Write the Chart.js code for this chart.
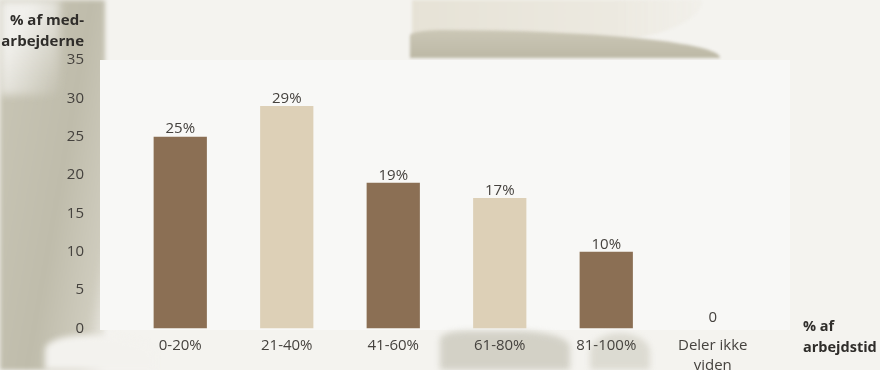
<!DOCTYPE html>
<html lang="da">
<head>
<meta charset="utf-8">
<title>Andel af arbejdstid</title>
<script src="https://cdn.jsdelivr.net/npm/chart.js@4.4.1/dist/chart.umd.min.js"></script>
<style>
  html, body { margin: 0; padding: 0; }
  body {
    width: 880px; height: 370px; overflow: hidden; position: relative;
    background: #f4f3ef;
    font-family: "Open Sans", Lato, sans-serif;
  }
  /* baggrundens penselstrøg */
  .bg { position: absolute; }
  #venstre {
    left: 0; top: 0; width: 105px; height: 370px;
    background: linear-gradient(100deg, #c9c6b6 0%, #bfbcab 55%, #cfccbe 85%, rgba(244,243,239,0) 100%);
    filter: blur(2px);
  }
  #venstre-lys {
    left: 0; top: 0; width: 60px; height: 95px;
    background: linear-gradient(120deg, #f1f0ec 30%, rgba(241,240,236,0) 100%);
    filter: blur(4px);
  }
  #venstre-bund {
    left: 45px; top: 335px; width: 110px; height: 35px;
    background: #f3f2ee; border-radius: 40% 60% 0 0; filter: blur(3px);
  }
  #top-lys {
    left: 412px; top: 0; width: 290px; height: 42px;
    background: linear-gradient(90deg, #e6e2d6, #ece9e0 70%, rgba(236,233,224,0.3));
    border-radius: 0 0 40% 0 / 0 0 100% 0; filter: blur(1.5px);
  }
  #top-moerk {
    left: 410px; top: 30px; width: 310px; height: 28px;
    background: linear-gradient(180deg, #cbc7b6, #bcb8a5);
    border-radius: 10% 90% 0 0 / 20% 100% 0 0; filter: blur(1.5px);
  }
  #panel {
    left: 100px; top: 60px; width: 690px; height: 270px;
    background: #f8f8f6;
  }
  #bund1 {
    left: 440px; top: 331px; width: 130px; height: 39px;
    background: #cbc9bd; border-radius: 20% 40% 0 0; filter: blur(3px); opacity: .8;
  }
  #bund2 {
    left: 590px; top: 333px; width: 60px; height: 37px;
    background: #d3d1c6; border-radius: 50% 50% 0 0; filter: blur(3px); opacity: .7;
  }
  .titel {
    position: absolute; font-weight: bold; font-size: 15px; line-height: 21px;
    color: #2f2d2a;
  }
  #y-titel { right: 796px; top: 9px; text-align: right; }
  #x-titel { left: 803px; top: 315px; font-size: 14.5px; }
  #wrap { position: absolute; left: 0; top: 0; width: 880px; height: 370px; }
</style>
</head>
<body>
<div class="bg" id="venstre"></div>
<div class="bg" id="venstre-lys"></div>
<div class="bg" id="venstre-bund"></div>
<div class="bg" id="top-lys"></div>
<div class="bg" id="top-moerk"></div>
<div class="bg" id="panel"></div>
<div class="bg" id="bund1"></div>
<div class="bg" id="bund2"></div>

<div id="wrap"><canvas id="diagram" width="880" height="370"></canvas></div>

<div class="titel" id="y-titel">% af med-<br>arbejderne</div>
<div class="titel" id="x-titel">% af<br>arbejdstid</div>

<script>
// Kategorier og værdier (% af medarbejderne)
const kategorier = ['0-20%', '21-40%', '41-60%', '61-80%', '81-100%', ['Deler ikke', 'viden']];
const andele = [25, 29, 19, 17, 10, 0];
const etiketter = ['25%', '29%', '19%', '17%', '10%', '0'];
const yTicks = [0, 5, 10, 15, 20, 25, 30, 35];

const MOERK = '#8b6f54';
const LYS = '#ddd0b7';
const TEKST = '#45423e';
const FONT = '"Open Sans", Lato, sans-serif';

// skriver værdien over hver søjle
const vaerdiPlugin = {
    id: 'vaerdier',
    afterDatasetsDraw(chart) {
        const ctx = chart.ctx;
        const meta = chart.getDatasetMeta(0);
        ctx.save();
        ctx.font = '15px ' + FONT;
        ctx.fillStyle = TEKST;
        ctx.textAlign = 'center';
        ctx.textBaseline = 'bottom';
        meta.data.forEach((bar, i) => {
            ctx.fillText(etiketter[i], bar.x, bar.y - (andele[i] === 0 ? 3 : 0));
        });
        ctx.restore();
    }
};

new Chart(document.getElementById('diagram'), {
    type: 'bar',
    data: {
        labels: kategorier,
        datasets: [{
            data: andele,
            backgroundColor: andele.map((v, i) => i % 2 === 0 ? MOERK : LYS),
            borderWidth: 0,
            barPercentage: 0.5,
            categoryPercentage: 1
        }]
    },
    options: {
        responsive: false,
        animation: false,
        layout: { padding: { top: 60, right: 114, left: 0, bottom: 0 } },
        plugins: {
            legend: { display: false },
            tooltip: { enabled: false }
        },
        scales: {
            x: {
                grid: { display: false, drawTicks: false },
                border: { display: false },
                ticks: {
                    color: TEKST,
                    padding: 7,
                    font: { family: FONT, size: 15, lineHeight: 1.35 },
                    maxRotation: 0
                },
                afterFit(scale) { scale.height = 41.5; }
            },
            y: {
                min: 0,
                max: 35,
                grid: { display: false, drawTicks: false },
                border: { display: false },
                afterBuildTicks(scale) { scale.ticks = yTicks.map(v => ({ value: v })); },
                ticks: {
                    color: TEKST,
                    padding: 43,
                    font: { family: FONT, size: 15 }
                },
                afterFit(scale) {
                    scale.width = 127;
                    // ticks.padding skal kun flytte tallene vandret
                    scale.paddingTop = 8;
                    scale.paddingBottom = 8;
                }
            }
        }
    },
    plugins: [vaerdiPlugin]
});
</script>
</body>
</html>
